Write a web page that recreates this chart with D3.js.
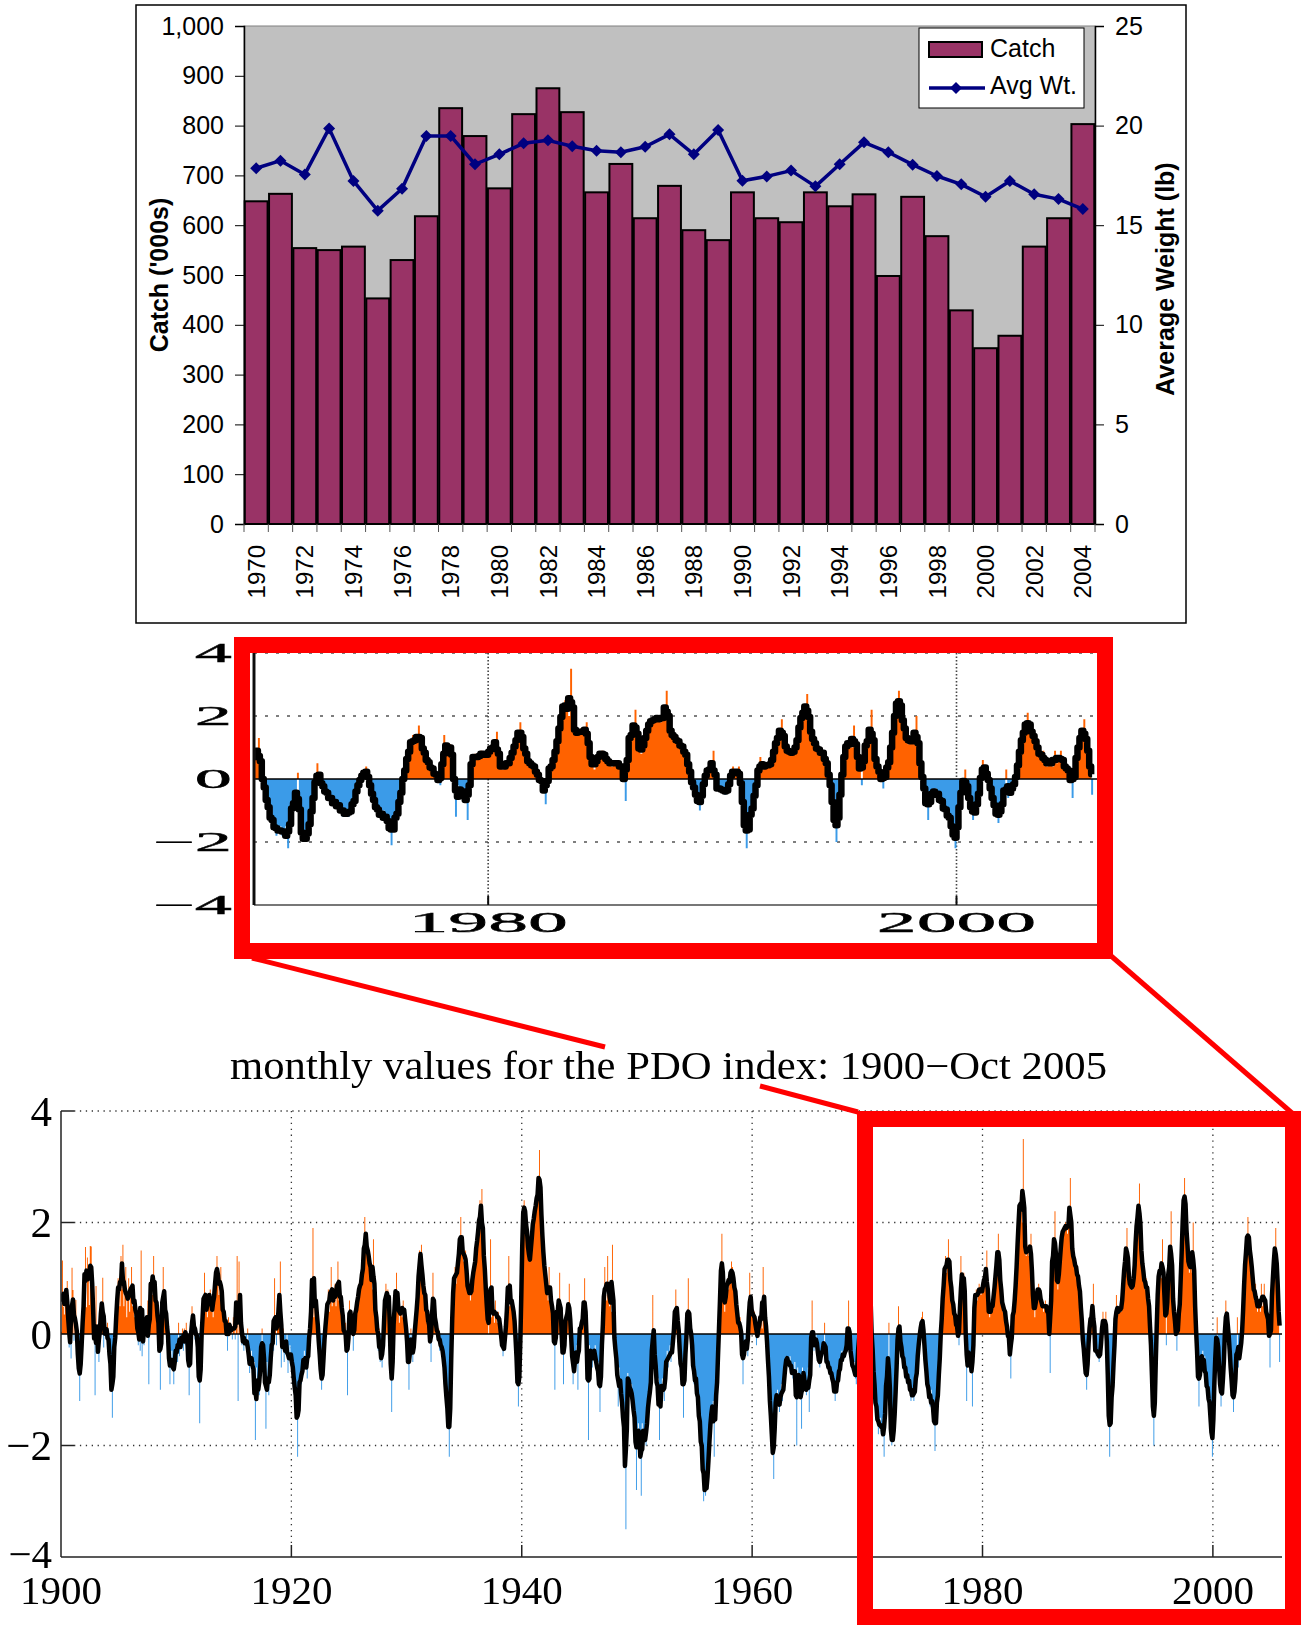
<!DOCTYPE html>
<html><head><meta charset="utf-8">
<script src="https://cdn.jsdelivr.net/npm/d3@7"></script>
<style>html,body{margin:0;padding:0;background:#fff}svg{display:block}</style>
</head><body><svg id="c" width="1301" height="1625"></svg>
<script>
// ---- Catch and average weight, 1970-2004 ----
const catchYears = [1970,1971,1972,1973,1974,1975,1976,1977,1978,1979,1980,1981,1982,1983,1984,1985,1986,1987,1988,1989,1990,1991,1992,1993,1994,1995,1996,1997,1998,1999,2000,2001,2002,2003,2004];
const catchValues = [648,663,554,550,557,453,530,618,835,779,674,823,875,827,666,723,614,679,590,570,666,614,606,666,638,662,498,657,578,429,353,378,557,614,803];
const avgWeight = [17.86,18.24,17.55,19.86,17.22,15.73,16.83,19.48,19.48,18.06,18.56,19.11,19.26,18.96,18.74,18.66,18.94,19.56,18.56,19.78,17.23,17.45,17.74,16.95,18.06,19.16,18.66,18.04,17.47,17.05,16.43,17.22,16.55,16.31,15.81];
const catchTicks = [0,100,200,300,400,500,600,700,800,900,1000];
const weightTicks = [0,5,10,15,20,25];

// ---- Monthly PDO index, Jan 1900 - Oct 2005 ----
const pdo1900s = [
 0.04,1.32,0.49,0.35,0.77,0.65,0.95,0.14,-0.24,0.23,-0.44,1.19,
 0.79,-0.12,0.35,0.61,-0.42,-0.05,-0.60,-1.20,-0.33,-0.10,-0.17,0.84,
 0.82,1.56,0.48,1.37,1.09,0.52,1.58,1.57,0.44,0.70,0.16,-1.10,
 0.86,-0.24,-0.22,-0.50,0.43,0.23,0.40,1.01,-0.24,0.18,0.08,-0.03,
 0.2,-0.4,-0.1,-0.6,-0.9,-1.5,-0.3,-0.5,0.1,0.2,0.6,1.0,
 0.9,0.5,1.4,0.8,1.6,0.5,0.7,1.2,0.3,0.6,1.0,0.4,
 0.8,1.2,0.5,0.9,0.3,0.6,0.4,0.1,-0.2,0.2,-0.3,1.5,
 -0.4,0.2,-0.2,0.3,0.1,0.2,0.6,-0.9,0.8,0.9,1.0,0.7,
 1.4,0.6,0.8,0.4,0.5,0.1,0.0,-1.0,0.2,0.3,1.2,0.5,
 0.6,0.2,0.3,-0.1,-0.3,-0.9,-0.5,-0.3,-0.6,-0.9,-0.4,-0.2];
const pdo1910s = [
 -0.3,-0.5,0.2,-0.4,-0.1,-0.2,0.1,-0.3,0.1,-0.2,0.2,-0.1,
 -0.2,-1.1,-0.4,-0.1,0.5,0.2,0.3,-0.1,0.1,0.0,-0.2,-0.5,
 -1.6,-0.4,0.1,0.3,0.5,1.1,0.4,0.6,0.3,0.7,0.6,0.8,
 0.4,0.6,0.3,0.8,0.9,1.0,1.4,1.1,0.7,0.9,1.2,0.5,
 0.6,0.2,0.4,0.1,0.2,-0.3,0.3,0.0,0.2,0.1,-0.1,0.3,
 0.1,-0.1,0.4,1.4,-1.2,1.3,0.6,0.2,-0.2,0.1,-0.3,0.0,
 -0.2,-0.3,0.1,-0.5,-0.7,-0.4,-0.3,-0.6,-0.8,-0.5,-1.9,-0.6,
 -1.0,-0.9,-1.1,-0.6,-0.2,0.1,-0.4,-0.3,-0.6,-1.7,-0.5,-0.8,
 -1.1,-0.7,-0.4,-0.2,0.0,-0.3,1.0,0.1,-0.2,0.4,0.3,0.5,
 1.3,-0.6,-0.2,0.1,-0.5,-0.1,-0.3,0.0,-0.7,-0.4,-0.2,-0.5];
const pdo1920s = [
 -0.4,-0.6,-0.8,-1.0,-1.1,-1.2,-2.2,-1.0,-0.9,-0.7,-0.9,-0.6,
 -0.5,-0.3,-0.6,-0.4,-0.8,-0.1,-0.3,0.2,0.4,0.6,1.9,0.3,
 0.8,0.4,0.6,0.1,-0.2,-0.3,-0.6,-1.0,-0.8,-0.4,-0.1,0.2,
 0.3,0.5,0.8,0.4,0.6,1.2,0.5,0.7,0.6,0.9,0.5,0.8,
 1.3,0.6,0.9,0.5,0.6,0.3,0.1,-0.2,0.2,0.0,-1.1,0.3,
 0.6,0.2,0.4,0.1,-0.3,0.2,0.3,0.6,0.4,0.7,0.9,0.8,
 0.9,1.0,1.3,1.2,2.1,1.5,1.8,1.4,1.3,1.5,1.0,1.1,
 0.8,1.7,0.6,0.4,0.3,0.2,-0.3,0.1,-0.5,-0.2,-0.6,-0.3,
 0.3,0.6,0.9,0.5,0.8,0.7,0.5,-0.7,-1.4,-0.3,0.2,0.6,
 0.6,1.1,0.5,0.6,0.2,0.4,0.5,0.3,0.6,0.4,0.3,0.1];
const pdo1930s = [
 -0.1,-0.4,-1.0,-0.1,0.1,-0.3,-0.5,-0.2,0.0,0.3,0.4,0.6,
 1.0,1.5,1.2,1.6,0.9,0.7,1.0,0.5,0.6,0.2,0.4,0.1,
 0.0,-0.5,0.4,1.1,0.4,0.3,0.2,0.1,-0.1,0.1,-0.3,-0.1,
 -0.2,-0.4,-0.3,-0.6,-0.9,-1.2,-1.3,-1.5,-2.2,-1.3,-0.5,0.4,
 0.8,1.0,1.2,0.9,1.1,1.3,1.4,1.6,2.1,1.5,1.6,1.3,
 1.4,1.5,1.1,0.8,0.7,0.9,0.6,0.7,1.0,1.2,1.1,1.3,
 1.5,1.8,1.7,2.0,2.4,1.9,2.6,1.5,1.6,1.1,0.8,0.6,
 0.2,0.0,0.4,1.7,0.3,0.5,0.4,0.2,0.6,0.3,0.2,0.4,
 0.3,0.1,0.0,-0.2,-0.4,-0.1,-0.3,0.2,0.5,0.6,1.4,0.5,
 0.7,0.5,0.6,0.4,0.2,0.1,-0.5,-0.8,-1.3,-0.6,-0.4,0.6];
const pdo1940s = [
 1.8,2.3,2.4,2.1,2.1,1.7,1.7,1.3,1.3,1.4,1.9,1.9,
 2.1,2.2,2.3,2.4,2.6,2.5,3.3,2.5,2.1,1.8,1.4,1.2,
 1.1,0.9,0.7,0.6,1.2,0.7,0.6,0.5,0.4,0.2,-1.0,0.3,
 0.5,0.4,0.3,1.1,0.2,0.1,-0.2,-0.9,0.1,0.2,0.4,0.3,
 0.4,0.9,0.1,-0.2,-0.1,-0.9,-0.6,-0.5,-0.3,-0.2,-1.0,0.1,
 0.0,0.2,0.1,0.3,0.4,1.0,0.3,-0.1,-0.4,-1.9,-0.2,-0.3,
 -0.4,-0.6,-0.3,-0.4,-0.2,-0.6,-0.7,-0.5,-0.8,-1.4,-0.6,-0.3,
 0.3,0.5,1.2,0.7,0.6,1.4,0.7,0.5,0.8,0.4,1.6,0.3,
 -0.1,-0.4,-0.3,-0.6,-1.3,-0.6,-0.9,-1.0,-1.3,-1.4,-1.8,-1.8,
 -3.5,-0.9,-0.7,-0.8,-1.0,-1.1,-0.9,-1.2,-1.5,-1.4,-1.6,-2.8];
const pdo1950s = [
 -1.7,-1.6,-1.9,-1.8,-2.9,-1.6,-1.7,-1.9,-1.8,-2.0,-1.5,-1.3,
 -1.2,-1.0,-0.9,-0.7,0.7,-0.3,-0.2,-0.6,-0.9,-1.1,-0.8,-1.9,
 -0.9,-1.1,-0.8,-1.0,-1.2,-0.7,-0.5,-0.3,-0.6,-0.4,-0.2,-0.5,
 -0.3,-0.2,0.1,0.3,0.8,0.2,0.4,0.1,-0.3,-0.6,-0.7,-0.5,
 -1.5,-0.7,-0.3,-0.1,0.2,1.0,0.0,0.1,0.2,-0.3,-0.5,-0.9,
 -0.6,-1.0,-0.8,-1.4,-1.2,-1.8,-1.7,-2.3,-2.0,-3.0,-2.5,-2.9,
 -2.8,-2.6,-2.3,-1.9,-1.6,-1.4,-1.3,-1.2,-2.2,-1.1,-1.3,-0.9,
 -0.4,0.2,0.5,1.1,1.8,0.9,0.6,0.4,0.7,0.9,1.0,0.8,
 1.1,0.9,1.3,1.2,0.8,1.0,0.7,0.6,0.3,0.2,0.1,0.3,
 0.0,-0.2,-0.9,-0.2,0.0,-0.3,-0.1,-0.4,0.2,1.1,0.4,0.5];
const pdo1960s = [
 0.4,0.2,0.4,0.3,-0.2,0.1,0.0,0.2,0.3,0.4,0.1,1.2,
 0.3,0.5,0.1,-0.2,-0.3,-0.9,-1.1,-1.6,-1.7,-2.1,-2.6,-1.4,
 -1.1,-1.2,-1.0,-1.3,-1.4,-1.1,-0.9,-1.2,-1.0,-0.8,-0.6,-0.4,
 -0.4,-0.5,-0.6,-0.4,-0.7,-0.6,-0.8,-0.7,-0.5,-0.8,-2.0,-0.6,
 -0.7,-0.9,-0.8,-1.7,-0.6,-0.7,-0.8,-1.0,-1.1,-0.9,-0.6,-1.4,
 -0.5,-0.3,0.6,-0.2,-0.3,-0.1,0.0,-0.2,-0.3,-0.5,-0.6,-0.4,
 -0.2,-0.4,-0.3,0.2,-0.5,-0.4,-0.6,-0.5,-0.7,-0.6,-0.8,-0.7,
 -0.9,-1.0,-1.2,-0.9,-1.0,-0.7,-0.8,-0.5,-0.6,-0.3,-0.5,-0.3,
 -0.4,-0.3,-0.2,-0.1,0.6,-0.2,-0.3,-0.4,-0.6,-0.7,-0.5,-0.8,
 -0.9,-0.5,-0.4,0.1,0.1,0.5,0.2,0.6,0.5,0.4,0.8,0.7];
const pdo1970s = [
 0.8,0.6,1.3,0.3,0.1,-0.4,-0.5,-1.1,-1.1,-1.5,-1.3,-1.8,
 -1.6,-1.5,-1.8,-1.7,-1.5,-2.2,-1.3,-0.8,-0.7,-0.8,0.2,-1.3,
 -1.8,-2.0,-1.9,-1.8,-1.5,-1.0,-0.6,-0.2,0.5,0.0,-0.1,-0.3,
 -0.3,-0.6,-0.4,-0.8,-0.6,-0.9,-0.7,-1.0,-0.8,-1.2,-1.0,-1.1,
 -1.2,-0.9,-1.0,-0.5,-0.6,-0.1,0.1,-0.1,0.3,0.4,0.0,-0.2,
 -0.4,-0.8,-0.8,-1.1,-1.0,-1.3,-1.0,-1.4,-1.2,-1.4,-2.1,-1.3,
 -1.4,-1.0,-0.9,-0.3,-0.1,0.4,0.5,1.0,1.1,1.4,1.1,1.2,
 1.7,1.1,1.1,0.7,0.7,0.4,0.5,0.2,0.3,0.0,0.1,-0.2,
 0.2,1.4,0.8,1.0,1.1,0.9,0.3,-1.2,-0.2,-0.3,-0.5,-0.4,
 -0.3,-1.3,0.1,0.6,0.7,0.8,0.6,0.7,0.9,0.8,0.7,0.8];
const pdo1980s = [
 0.8,1.0,1.1,0.9,1.5,0.4,0.5,0.3,0.5,0.4,0.6,0.5,
 0.9,1.1,1.1,1.5,1.8,1.1,1.1,0.7,0.6,0.4,0.5,0.4,
 0.3,0.0,0.1,-0.2,-0.1,-0.8,0.3,0.3,0.4,0.5,0.9,1.2,
 1.5,2.1,2.3,2.5,2.2,2.0,3.5,1.8,1.5,1.4,1.5,1.6,
 1.4,1.5,1.8,1.0,0.6,0.5,0.3,0.6,0.8,0.7,0.9,0.8,
 0.6,0.5,0.6,0.4,0.5,0.6,0.4,0.5,0.3,0.4,-0.7,1.2,
 1.3,1.4,1.5,2.2,1.2,0.9,0.8,1.1,1.3,1.5,1.8,1.9,
 1.8,1.9,2.0,1.9,1.8,2.1,1.9,2.8,1.7,1.5,1.4,1.3,
 1.3,1.1,1.2,0.9,1.0,0.7,0.6,0.1,0.0,-0.4,-0.4,-0.7,
 -1.0,-0.5,-0.1,0.1,0.3,0.4,0.2,0.9,-0.3,-0.2,-0.4,-0.3];
const pdo1990s = [
 -0.3,-0.5,-0.4,-0.2,0.1,0.4,0.2,0.1,0.4,0.0,-0.8,-1.4,
 -2.2,-1.3,-1.3,-0.8,-0.7,-0.1,0.2,0.7,0.3,0.4,0.5,0.4,
 0.4,0.6,0.8,1.2,1.4,1.3,1.9,1.2,1.0,0.9,0.8,0.9,
 0.8,0.9,1.3,1.5,2.1,2.2,2.0,2.7,1.8,1.4,1.3,1.1,
 1.0,0.8,1.0,0.7,0.8,0.4,0.3,-0.3,-0.6,-1.3,-2.0,-1.1,
 -0.6,0.2,0.8,1.1,1.2,1.1,1.0,1.7,0.9,0.7,0.5,-0.2,
 0.8,1.1,1.3,1.2,2.2,0.9,0.6,0.4,0.2,0.1,-0.3,0.3,
 0.2,0.6,0.8,1.6,2.0,2.4,2.8,2.2,2.0,1.4,1.4,1.1,
 1.2,1.3,1.1,2.0,0.9,0.5,0.1,-0.4,-0.6,-1.3,-0.5,-0.4,
 -0.5,-0.3,-0.7,-0.4,-0.9,-0.8,-1.1,-1.0,-1.4,-1.3,-1.8,-2.2];
const pdo2000s = [
 -1.6,-0.8,-0.3,-0.2,0.3,-0.4,-0.6,-0.8,-1.3,-1.0,-0.9,-0.5,
 0.0,0.6,0.3,0.2,0.0,-0.3,-0.6,-0.9,-1.0,-1.4,-1.0,-0.7,
 -0.7,0.3,-0.6,-0.4,-0.3,-0.2,0.0,0.4,0.9,1.3,1.5,1.6,
 2.1,1.6,1.5,1.4,1.2,1.0,0.8,0.6,0.9,0.5,0.4,0.6,
 0.5,0.4,0.9,0.5,0.6,0.9,0.4,0.5,0.3,0.2,0.3,-0.6,
 0.3,0.5,1.2,1.3,1.4,1.9,1.0,0.9,0.8,-0.5];
const pdoYearTicks = [1900,1920,1940,1960,1980,2000];
const pdoZoomTicks = [1980,2000];
const pdoValueTicks = [-4,-2,0,2,4];

const svg = d3.select("#c");
svg.append("rect").attr("width",1301).attr("height",1625).attr("fill","#fff");
const SANS = "'Liberation Sans', Arial, sans-serif";
const SERIF = "'Liberation Serif', 'Times New Roman', serif";
const ORANGE = "#ff6200", BLUE = "#3b9be8";

// ================= Catch / Avg weight chart =================
const catchG = svg.append("g");
catchG.append("rect").attr("x",136).attr("y",5).attr("width",1050).attr("height",618)
  .attr("fill","#fff").attr("stroke","#000").attr("stroke-width",1.5);
const xC = d3.scaleBand().domain(catchYears).range([244,1095]).paddingInner(0.06).paddingOuter(0.03);
const yC = d3.scaleLinear().domain([0,1000]).range([524,26]);
const yW = d3.scaleLinear().domain([0,25]).range([524,26]);
catchG.append("rect").attr("x",244).attr("y",26).attr("width",851).attr("height",498)
  .attr("fill","#c0c0c0").attr("stroke","#808080").attr("stroke-width",1);

catchG.selectAll("rect.bar").data(catchYears).join("rect").attr("class","bar")
  .attr("x",d=>xC(d)).attr("width",xC.bandwidth())
  .attr("y",(d,i)=>yC(catchValues[i])).attr("height",(d,i)=>yC(0)-yC(catchValues[i]))
  .attr("fill","#993366").attr("stroke","#000").attr("stroke-width",2);

const wLine = d3.line().x((d,i)=>xC(catchYears[i])+xC.bandwidth()/2).y(d=>yW(d));
catchG.append("path").datum(avgWeight).attr("d",wLine).attr("fill","none")
  .attr("stroke","#000080").attr("stroke-width",3.5).attr("stroke-linejoin","round");
const diamond = "M0,-6L6,0L0,6L-6,0Z";
catchG.selectAll("path.mk").data(avgWeight).join("path").attr("class","mk").attr("d",diamond)
  .attr("transform",(d,i)=>`translate(${xC(catchYears[i])+xC.bandwidth()/2},${yW(d)})`)
  .attr("fill","#000080");

const axL = catchG.append("g").attr("transform","translate(244,0)")
  .call(d3.axisLeft(yC).tickValues(catchTicks).tickFormat(d3.format(",")).tickSize(9).tickPadding(11));
const axR = catchG.append("g").attr("transform","translate(1095,0)")
  .call(d3.axisRight(yW).tickValues(weightTicks).tickSize(9).tickPadding(11));
[axL,axR].forEach(a=>{
  a.select(".domain").attr("stroke","#000").attr("stroke-width",1.5);
  a.selectAll(".tick line").attr("stroke","#000");
  a.selectAll("text").attr("font-family",SANS).attr("font-size",25).attr("fill","#000");
});
// category axis
catchG.append("line").attr("x1",244).attr("x2",1095).attr("y1",524).attr("y2",524).attr("stroke","#000").attr("stroke-width",1.5);
const step = xC.step();
const bounds = catchYears.map(d=>xC(d)-xC.paddingInner()*step/2).concat([1095]);
catchG.selectAll("line.xt").data(bounds).join("line").attr("class","xt")
  .attr("x1",d=>d).attr("x2",d=>d).attr("y1",524).attr("y2",532).attr("stroke","#555");
catchG.selectAll("text.xl").data(catchYears.filter((d,i)=>i%2===0)).join("text").attr("class","xl")
  .attr("transform",d=>`translate(${xC(d)+xC.bandwidth()/2},545) rotate(-90)`)
  .attr("text-anchor","end").attr("dy","0.36em")
  .attr("font-family",SANS).attr("font-size",24).text(d=>d);
catchG.append("text").attr("transform","translate(159,275) rotate(-90)").attr("text-anchor","middle")
  .attr("dy","0.35em").attr("font-family",SANS).attr("font-weight","bold").attr("font-size",25)
  .text("Catch ('000s)");
catchG.append("text").attr("transform","translate(1165,279) rotate(-90)").attr("text-anchor","middle")
  .attr("dy","0.35em").attr("font-family",SANS).attr("font-weight","bold").attr("font-size",25)
  .text("Average Weight (lb)");
// legend
const lg = catchG.append("g");
lg.append("rect").attr("x",919).attr("y",28).attr("width",165).attr("height",80)
  .attr("fill","#fff").attr("stroke","#000").attr("stroke-width",1);
lg.append("rect").attr("x",929).attr("y",42).attr("width",53).attr("height",15)
  .attr("fill","#993366").attr("stroke","#000").attr("stroke-width",2);
lg.append("text").attr("x",990).attr("y",57).attr("font-family",SANS).attr("font-size",25).text("Catch");
lg.append("line").attr("x1",929).attr("x2",985).attr("y1",88).attr("y2",88).attr("stroke","#000080").attr("stroke-width",3.5);
lg.append("path").attr("d",diamond).attr("transform","translate(956,88)").attr("fill","#000080");
lg.append("text").attr("x",990).attr("y",94).attr("font-family",SANS).attr("font-size",25).text("Avg Wt.");

// ================= PDO series =================
const pdoMonthly = [].concat(pdo1900s,pdo1910s,pdo1920s,pdo1930s,pdo1940s,pdo1950s,pdo1960s,pdo1970s,pdo1980s,pdo1990s,pdo2000s);
const pdo = pdoMonthly.map((v,i)=>({t:1900+i/12, v}));
// 3-month running mean
pdo.forEach((d,i)=>{
  const w = pdo.slice(Math.max(0,i-1), Math.min(pdo.length,i+2));
  d.s = d3.mean(w,e=>e.v);
});

function drawPdo(g, x, y, opt){
  const pts = pdo.filter(d=>d.t>=x.domain()[0]-1/12);
  const last = pts[pts.length-1];
  const stepPts = pts.concat([{t:last.t+1/12, v:last.v}]);
  const cid = "clip"+opt.id;
  g.append("clipPath").attr("id",cid).append("rect")
    .attr("x",x.range()[0]).attr("y",y.range()[1]).attr("width",x.range()[1]-x.range()[0]).attr("height",y.range()[0]-y.range()[1]);
  const body = g.append("g").attr("clip-path",`url(#${cid})`);
  const aPos = d3.area().curve(d3.curveStepAfter).x(d=>x(d.t)).y0(y(0)).y1(d=>y(Math.max(0,d.v)));
  const aNeg = d3.area().curve(d3.curveStepAfter).x(d=>x(d.t)).y0(y(0)).y1(d=>y(Math.min(0,d.v)));
  body.append("path").datum(stepPts).attr("d",aPos).attr("fill",ORANGE);
  body.append("path").datum(stepPts).attr("d",aNeg).attr("fill",BLUE);
  body.append("line").attr("x1",x.range()[0]).attr("x2",x.range()[1]).attr("y1",y(0)).attr("y2",y(0))
    .attr("stroke","#000").attr("stroke-width",opt.zeroW);
  body.append("path").datum(pts).attr("fill","none").attr("stroke","#000").attr("stroke-width",opt.lineW)
    .attr("stroke-linejoin","round")
    .attr("d",d3.line().curve(opt.curve).x(d=>x(d.t+1/24)).y(d=>y(d.s)));
}

// ---- zoomed view 1970-2006 ----
const mid = svg.append("g");
const blur = svg.append("defs").append("filter").attr("id","soft");
blur.append("feGaussianBlur").attr("stdDeviation",0.7);
const midG = mid.append("g").attr("filter","url(#soft)");
const xM = d3.scaleLinear().domain([1970,2006]).range([254,1097]);
const yM = d3.scaleLinear().domain([-4,4]).range([905,653]);
[4,2,-2].forEach(v=>midG.append("line").attr("x1",254).attr("x2",1097).attr("y1",yM(v)).attr("y2",yM(v))
  .attr("stroke","#555").attr("stroke-width",1.3).attr("stroke-dasharray","3,8"));
pdoZoomTicks.forEach(t=>midG.append("line").attr("x1",xM(t)).attr("x2",xM(t)).attr("y1",653).attr("y2",905)
  .attr("stroke","#444").attr("stroke-width",1.6).attr("stroke-dasharray","1.5,2"));
drawPdo(midG, xM, yM, {id:"m", lineW:6.5, zeroW:1.5, curve:d3.curveStep});
midG.append("line").attr("x1",254).attr("x2",1097).attr("y1",905).attr("y2",905).attr("stroke","#777").attr("stroke-width",2);
midG.append("line").attr("x1",254).attr("x2",254).attr("y1",653).attr("y2",905).attr("stroke","#111").attr("stroke-width",3);
pdoZoomTicks.forEach(t=>midG.append("line").attr("x1",xM(t)).attr("x2",xM(t)).attr("y1",905).attr("y2",896)
  .attr("stroke","#111").attr("stroke-width",2));
pdoValueTicks.forEach(v=>midG.append("text").attr("transform",`translate(232,${yM(v)}) scale(2.75,1)`)
  .attr("text-anchor","end").attr("dy","0.34em").attr("font-family",SERIF).attr("font-size",27)
  .attr("stroke","#000").attr("stroke-width",0.4)
  .text(v<0?"\u2212"+Math.abs(v):v));
pdoZoomTicks.forEach(t=>midG.append("text").attr("transform",`translate(${xM(t)},932) scale(2.75,1)`)
  .attr("text-anchor","middle").attr("font-family",SERIF).attr("font-size",29)
  .attr("stroke","#000").attr("stroke-width",0.4).text(t));

// ---- full record 1900-2006 ----
const bot = svg.append("g");
const xB = d3.scaleLinear().domain([1900,2006]).range([61,1282]);
const yB = d3.scaleLinear().domain([-4,4]).range([1557,1111]);
[4,2,-2].forEach(v=>bot.append("line").attr("x1",74).attr("x2",1282).attr("y1",yB(v)).attr("y2",yB(v))
  .attr("stroke","#333").attr("stroke-width",1.3).attr("stroke-dasharray","1.3,4.6"));
pdoYearTicks.slice(1).forEach(t=>bot.append("line").attr("x1",xB(t)).attr("x2",xB(t)).attr("y1",1111).attr("y2",1545)
  .attr("stroke","#333").attr("stroke-width",1.3).attr("stroke-dasharray","1.3,4.6"));
drawPdo(bot, xB, yB, {id:"b", lineW:4.5, zeroW:1.3, curve:d3.curveLinear});
bot.append("line").attr("x1",61).attr("x2",1282).attr("y1",1557).attr("y2",1557).attr("stroke","#222").attr("stroke-width",1.5);
bot.append("line").attr("x1",61).attr("x2",61).attr("y1",1111).attr("y2",1557).attr("stroke","#222").attr("stroke-width",1.5);
[4,2,-2].forEach(v=>bot.append("line").attr("x1",61).attr("x2",74).attr("y1",yB(v)).attr("y2",yB(v)).attr("stroke","#222").attr("stroke-width",1.5));
pdoYearTicks.slice(1).forEach(t=>bot.append("line").attr("x1",xB(t)).attr("x2",xB(t)).attr("y1",1557).attr("y2",1545).attr("stroke","#222").attr("stroke-width",1.5));
pdoValueTicks.forEach(v=>bot.append("text").attr("x",52).attr("y",yB(v)).attr("dy",v===-4?"0.28em":"0.34em")
  .attr("text-anchor","end").attr("font-family",SERIF).attr("font-size",v===-4?41:43)
  .text(v<0?"\u2212"+Math.abs(v):v));
pdoYearTicks.forEach(t=>bot.append("text").attr("x",xB(t)).attr("y",1604).attr("text-anchor","middle")
  .attr("font-family",SERIF).attr("font-size",41).text(t));
bot.append("text").attr("x",230).attr("y",1079).attr("font-family",SERIF).attr("font-size",39)
  .attr("textLength",877).attr("lengthAdjust","spacingAndGlyphs")
  .text("monthly values for the PDO index: 1900\u2212Oct 2005");

// ---- red callout frames ----
const red = svg.append("g").attr("fill","none").attr("stroke","#ff0000");
red.append("rect").attr("x",242).attr("y",645).attr("width",863).attr("height",306).attr("stroke-width",16);
red.append("rect").attr("x",865).attr("y",1119).attr("width",428).attr("height",498).attr("stroke-width",16);
red.append("line").attr("x1",252).attr("y1",958).attr("x2",605).attr("y2",1047).attr("stroke-width",5);
red.append("line").attr("x1",760).attr("y1",1086).attr("x2",858).attr("y2",1112).attr("stroke-width",5);
red.append("line").attr("x1",1110).attr("y1",955).attr("x2",1292).attr("y2",1113).attr("stroke-width",5);
</script></body></html>
